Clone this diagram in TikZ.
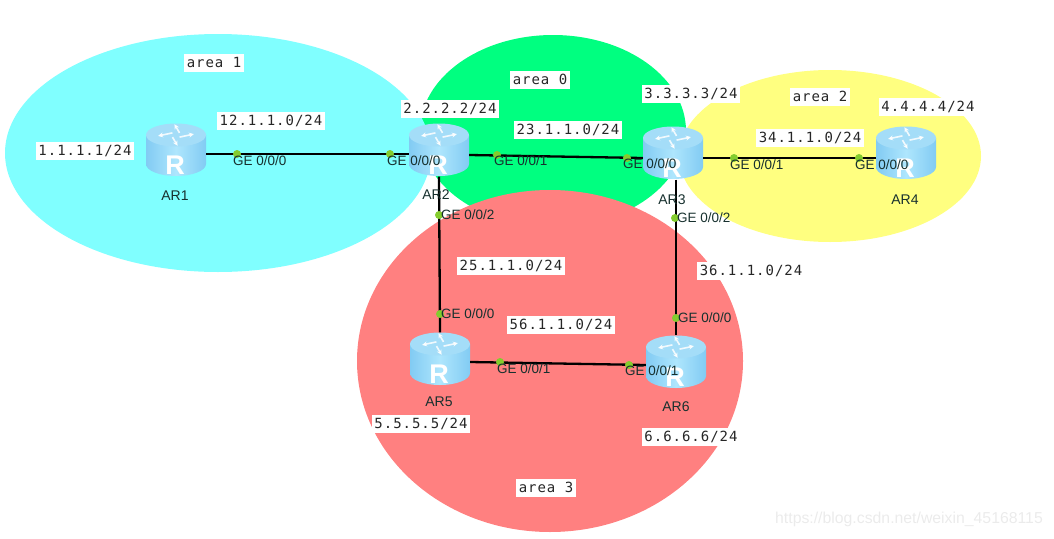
\documentclass[tikz,border=0pt]{standalone}
\usepackage{fontspec}
\setmainfont{Liberation Sans}
\newfontfamily\labelfont[LetterSpace=7]{DejaVu Sans Mono}
\usepackage{tikz}
\usetikzlibrary{arrows.meta}
\usepackage{xcolor}
\definecolor{areacyan}{HTML}{80FFFF}
\definecolor{areagreen}{HTML}{00FF80}
\definecolor{areayellow}{HTML}{FFFF80}
\definecolor{areared}{HTML}{FF8080}
\definecolor{portgreen}{HTML}{84CC2E}
\definecolor{routerside}{HTML}{82CBF3}
\definecolor{routermid}{HTML}{AEE6FD}
\definecolor{routertop}{HTML}{A4DDF8}
\definecolor{porttext}{HTML}{17302E}

\begin{document}
\begin{tikzpicture}[
    x=1pt, y=-1pt,
    netlabel/.style={fill=white, yshift=-1pt, inner xsep=2.5pt, inner ysep=3pt, text height=10pt, text depth=2pt, text=black!85, font=\labelfont\fontsize{14}{16}\selectfont},
    router/.style={rectangle, minimum width=60pt, minimum height=53pt, inner sep=0pt},
    routerletter/.style={inner sep=0pt, text=white, font=\bfseries\fontsize{27}{27}\selectfont},
    routername/.style={inner sep=0pt, text=porttext, font=\fontsize{14}{16}\selectfont},
    link/.style={line width=2.3pt, black},
    port/.style={circle, fill=portgreen, minimum size=8pt, inner sep=0pt},
    porttag/.style={anchor=west, inner sep=0pt, text=porttext, font=\fontsize{13.5}{15}\selectfont}
]
\useasboundingbox (0,0) rectangle (1054,538);

% Areas
\fill[areayellow] (830,156) ellipse [x radius=151pt, y radius=86pt];
\fill[areagreen] (553,131) ellipse [x radius=133pt, y radius=96pt];
\fill[areacyan] (218,153) ellipse [x radius=213pt, y radius=119pt];
\fill[areared] (550,361) ellipse [x radius=193pt, y radius=171pt];

% Area and network labels
\node (area1) [netlabel] at (214,62) {area 1};
\node (area0) [netlabel] at (540,79) {area 0};
\node (area2) [netlabel] at (820,96) {area 2};
\node (area3) [netlabel] at (546,487) {area 3};
\node (net1) [netlabel] at (85,150) {1.1.1.1/24};
\node (net2) [netlabel] at (450,108) {2.2.2.2/24};
\node (net3) [netlabel] at (691,93) {3.3.3.3/24};
\node (net4) [netlabel] at (928,106) {4.4.4.4/24};
\node (net5) [netlabel] at (421,423) {5.5.5.5/24};
\node (net6) [netlabel] at (691,436) {6.6.6.6/24};
\node (net12) [netlabel] at (271,120) {12.1.1.0/24};
\node (net23) [netlabel] at (568,129) {23.1.1.0/24};
\node (net34) [netlabel] at (810,137) {34.1.1.0/24};
\node (net25) [netlabel] at (511,265) {25.1.1.0/24};
\node (net36) [netlabel] at (751,270) {36.1.1.0/24};
\node (net56) [netlabel] at (561,324) {56.1.1.0/24};

% Routers
\foreach \name/\x/\y in {ar1/176/150, ar2/439/150, ar3/673/153, ar4/906/153, ar5/440/359, ar6/676/362} {
    \shade[left color=routerside, right color=routerside, middle color=routermid]
        (\x-30,\y-15) -- (\x-30,\y+14) arc [start angle=180, end angle=360, x radius=30pt, y radius=12pt] -- (\x+30,\y-15) -- cycle;
    \fill[routertop] (\x,\y-15) ellipse [x radius=30pt, y radius=11.5pt];
    \foreach \a in {45,135,225,315} {
        \draw[white, opacity=0.85, line width=1.6pt, -{Stealth[length=5pt,width=5pt]}, shift={(\x,\y-15)}, yscale=0.6]
            (\a:5pt) -- (\a+50:18pt);
    }
    \node (\name) [router] at (\x,\y) {};
    \node (\name letter) [routerletter] at (\x-1,\y+15) {R};
}

% Links
\draw[link] ([yshift=-4pt]ar1.east) -- ([yshift=-4pt]ar2.west);
\draw[link] ([yshift=-5pt]ar2.east) -- ([yshift=-5pt]ar3.west);
\draw[link] ([yshift=-5pt]ar3.east) -- ([yshift=-5pt]ar4.west);
\draw[link] (ar2.south) -- (ar5.north);
\draw[link] ([xshift=3pt]ar3.south) -- (ar6.north);
\draw[link] ([yshift=-3pt]ar5.east) -- ([yshift=-3pt]ar6.west);

% Router names
\node (name1) [routername] at (175,196) {AR1};
\node (name2) [routername] at (436,195) {AR2};
\node (name3) [routername] at (672,200) {AR3};
\node (name4) [routername] at (905,200) {AR4};
\node (name5) [routername] at (439,402) {AR5};
\node (name6) [routername] at (676,407) {AR6};

% Ports
\foreach \name/\x/\y in {p1/237/154, p2/390/154, p3/497/155, p4/627/158, p5/734/158, p6/859/158, p7/439/215, p8/675/218, p9/440/314, p10/676/318, p11/500/362, p12/629/365} {
    \node (\name) [port] at (\x,\y) {};
}
\node (tag1) [porttag] at (233,161) {GE 0/0/0};
\node (tag2) [porttag] at (387,161) {GE 0/0/0};
\node (tag3) [porttag] at (494,161) {GE 0/0/1};
\node (tag4) [porttag] at (623,164) {GE 0/0/0};
\node (tag5) [porttag] at (730,165) {GE 0/0/1};
\node (tag6) [porttag] at (855,165) {GE 0/0/0};
\node (tag7) [porttag] at (441,215) {GE 0/0/2};
\node (tag8) [porttag] at (677,218) {GE 0/0/2};
\node (tag9) [porttag] at (441,314) {GE 0/0/0};
\node (tag10) [porttag] at (678,318) {GE 0/0/0};
\node (tag11) [porttag] at (497,369) {GE 0/0/1};
\node (tag12) [porttag] at (625,371) {GE 0/0/1};

% Watermark
\node (mark) [inner sep=0pt, text=black!8, font=\fontsize{15.8}{17}\selectfont] at (909,519) {https://blog.csdn.net/weixin\_45168115};

\end{tikzpicture}
\end{document}
